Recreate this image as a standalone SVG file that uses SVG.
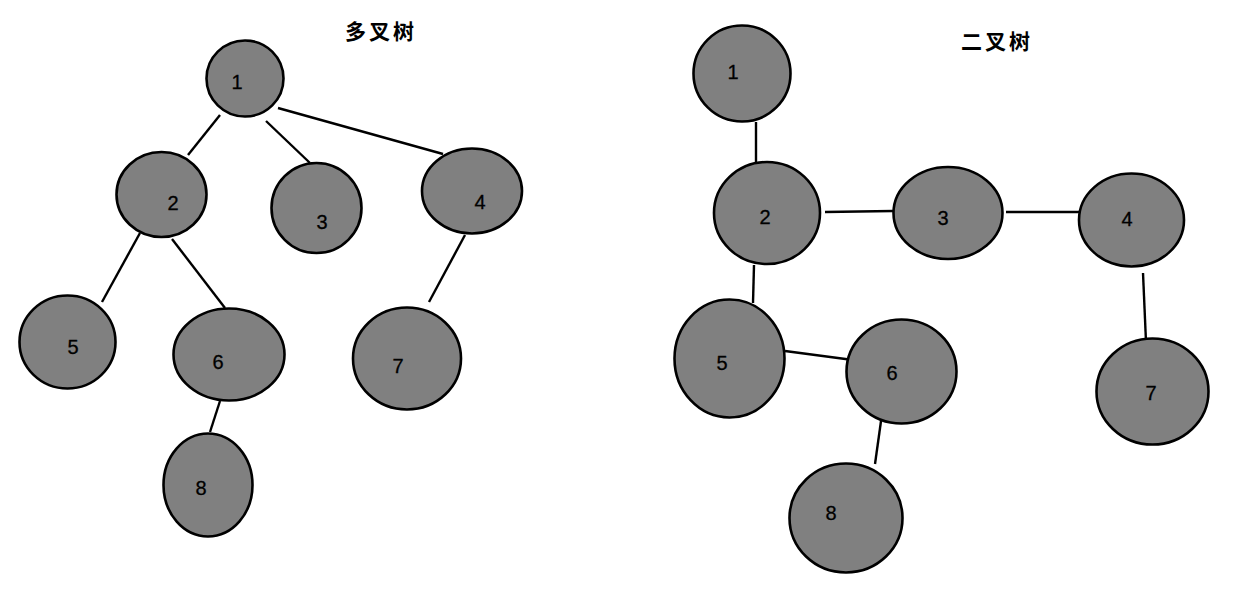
<svg xmlns="http://www.w3.org/2000/svg" width="1241" height="592" viewBox="0 0 1241 592">
<style>
.n{fill:#808080;stroke:#000;stroke-width:2.6}
.l{stroke:#000;stroke-width:2.4;fill:none}
.t{font-family:"Liberation Sans",Arial,sans-serif;font-size:20px;fill:#000;text-anchor:middle;stroke:#000;stroke-width:0.3}
.h{font-family:"Noto Sans CJK SC",sans-serif;font-size:21px;font-weight:bold;fill:#000;text-anchor:middle;letter-spacing:3px}
</style>
<rect width="1241" height="592" fill="#fff"/>
<text class="h" x="381" y="39">多叉树</text>
<text class="h" x="997" y="49">二叉树</text>
<g id="connectors">
<line class="l" x1="220" y1="115" x2="188" y2="155"/>
<line class="l" x1="266" y1="121" x2="310" y2="163"/>
<line class="l" x1="278" y1="108" x2="443" y2="154"/>
<line class="l" x1="140" y1="233" x2="102" y2="302"/>
<line class="l" x1="172" y1="239" x2="225" y2="308"/>
<line class="l" x1="465" y1="235" x2="429" y2="302"/>
<line class="l" x1="220" y1="401" x2="210" y2="432"/>
<line class="l" x1="756" y1="122" x2="756" y2="162"/>
<line class="l" x1="825" y1="212" x2="893" y2="211"/>
<line class="l" x1="1006" y1="212" x2="1080" y2="212"/>
<line class="l" x1="1143" y1="273" x2="1146" y2="342"/>
<line class="l" x1="754" y1="265" x2="753" y2="303"/>
<line class="l" x1="785" y1="351" x2="853" y2="360"/>
<line class="l" x1="882" y1="414" x2="875" y2="464"/>
</g>
<g id="m1"><ellipse class="n" cx="245" cy="78.5" rx="38.5" ry="38"/><text class="t" x="237" y="89">1</text></g>
<g id="m2"><ellipse class="n" cx="161.5" cy="194.5" rx="45" ry="42.5"/><text class="t" x="173" y="210">2</text></g>
<g id="m3"><ellipse class="n" cx="316.5" cy="208" rx="45" ry="45"/><text class="t" x="322" y="229">3</text></g>
<g id="m4"><ellipse class="n" cx="472" cy="191" rx="50" ry="42.5"/><text class="t" x="480" y="209">4</text></g>
<g id="m5"><ellipse class="n" cx="67.5" cy="342" rx="48" ry="46.5"/><text class="t" x="73" y="354">5</text></g>
<g id="m6"><ellipse class="n" cx="229" cy="354.5" rx="55.5" ry="46"/><text class="t" x="218" y="369">6</text></g>
<g id="m7"><ellipse class="n" cx="407" cy="358.5" rx="54" ry="51"/><text class="t" x="398" y="373">7</text></g>
<g id="m8"><ellipse class="n" cx="208" cy="485" rx="44.5" ry="51.5"/><text class="t" x="201" y="495">8</text></g>
<g id="b1"><ellipse class="n" cx="742" cy="73.5" rx="48.5" ry="48"/><text class="t" x="733" y="79">1</text></g>
<g id="b2"><ellipse class="n" cx="767" cy="213" rx="53" ry="51"/><text class="t" x="765" y="224">2</text></g>
<g id="b3"><ellipse class="n" cx="948" cy="213" rx="54.5" ry="46"/><text class="t" x="943" y="225">3</text></g>
<g id="b4"><ellipse class="n" cx="1131.5" cy="220" rx="52.5" ry="46.5"/><text class="t" x="1127" y="226">4</text></g>
<g id="b5"><ellipse class="n" cx="729.5" cy="358.5" rx="55" ry="59"/><text class="t" x="722" y="370">5</text></g>
<g id="b6"><ellipse class="n" cx="901.5" cy="371.5" rx="55" ry="52"/><text class="t" x="892" y="380">6</text></g>
<g id="b7"><ellipse class="n" cx="1152.5" cy="391.5" rx="56" ry="53"/><text class="t" x="1151" y="400">7</text></g>
<g id="b8"><ellipse class="n" cx="846" cy="518" rx="56.5" ry="54.5"/><text class="t" x="831" y="520">8</text></g>
</svg>
